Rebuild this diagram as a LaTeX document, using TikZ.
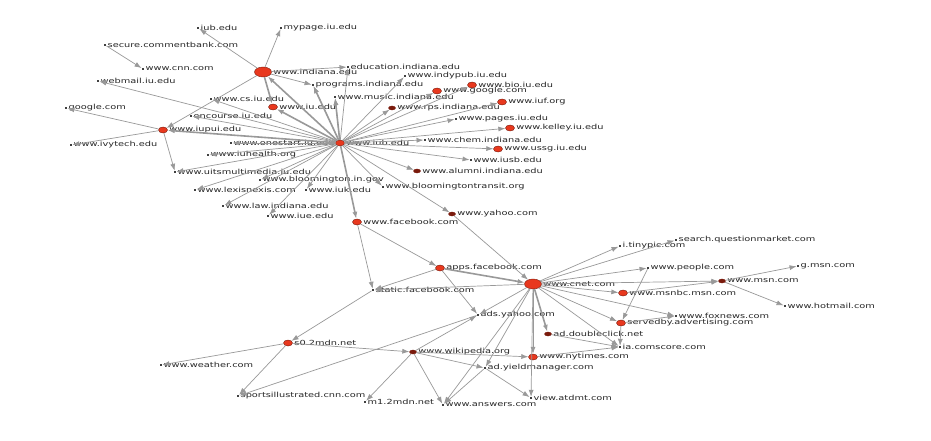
\documentclass[tikz,border=0pt]{standalone}
\usepackage{fontspec}
\usetikzlibrary{shapes,arrows.meta,positioning}
\newfontfamily\sitefont[FakeStretch=1.4]{DejaVu Sans}
\tikzset{>={Latex[width=5pt,length=7pt]}}
\definecolor{nodered}{HTML}{E8381E}
\definecolor{darkred}{HTML}{7A1A0C}
\definecolor{edgegray}{HTML}{999999}
\tikzset{
  hub/.style={ellipse, fill=nodered, draw=darkred, inner sep=0pt,
    minimum width=9pt, minimum height=6pt},
  bighub/.style={hub, minimum width=17pt, minimum height=10pt},
  darkhub/.style={hub, fill=darkred, minimum width=7pt, minimum height=4pt},
  leaf/.style={fill=black!75, inner sep=0pt, minimum width=2.5pt, minimum height=2pt},
  site/.style={font=\sitefont\fontsize{7}{7}\selectfont, inner sep=0pt, text=black!85},
  link/.style={->, draw=edgegray, line width=0.7pt},
  heavy/.style={link, line width=1.6pt},
}

\begin{document}
\begin{tikzpicture}[x=1pt,y=-1pt]

\fill[white] (0,0) rectangle (931,441);
\useasboundingbox (0,0) rectangle (931,441);

%% sites with a red mark
\foreach \n/\s/\x/\y/\t in {
  A/hub/340/143/www.iub.edu, B/bighub/263/72/www.indiana.edu,
  C/hub/163/130/www.iupui.edu, D/hub/273/107/www.iu.edu,
  bio/hub/472/85/www.bio.iu.edu, goog/hub/437/91/www.google.com,
  rps/darkhub/392/108/www.rps.indiana.edu, iuf/hub/502/102/www.iuf.org,
  kel/hub/510/128/www.kelley.iu.edu, ussg/hub/498/149/www.ussg.iu.edu,
  alum/darkhub/417/171/www.alumni.indiana.edu,
  E/hub/357/222/www.facebook.com, F/darkhub/452/214/www.yahoo.com,
  G/hub/440/268/apps.facebook.com, H/bighub/533/284/www.cnet.com,
  msnbc/hub/623/293/www.msnbc.msn.com, serv/hub/621/323/servedby.advertising.com,
  s0/hub/288/343/s0.2mdn.net, wiki/darkhub/413/352/www.wikipedia.org,
  nyt/hub/533/357/www.nytimes.com, dclk/darkhub/548/334/ad.doubleclick.net,
  msn/darkhub/722/281/www.msn.com}
{
  \node[\s] (\n) at (\x,\y) {};
  \node[site, right=1.5pt of \n] (\n-l) {\t};
}

%% plain sites
\foreach \n/\x/\y/\t in {
  iubedu/198/28/iub.edu, mypage/281/28/mypage.iu.edu,
  secure/105/45/secure.commentbank.com, cnn/143/69/www.cnn.com,
  webmail/98/81/webmail.iu.edu, google/66/108/google.com,
  educ/348/67/education.indiana.edu, indy/405/76/www.indypub.iu.edu,
  prog/313/85/programs.indiana.edu, cs/211/99/www.cs.iu.edu,
  music/335/97/www.music.indiana.edu, oncourse/191/116/oncourse.iu.edu,
  pages/456/119/www.pages.iu.edu, chem/425/140/www.chem.indiana.edu,
  iusb/471/160/www.iusb.edu, transit/383/187/www.bloomingtontransit.org,
  onestart/231/143/www.onestart.iu.edu, health/208/155/www.iuhealth.org,
  ivy/71/145/www.ivytech.edu, uits/175/172/www.uitsmultimedia.iu.edu,
  bgov/260/180/www.bloomington.in.gov, lexis/195/190/www.lexisnexis.com,
  iuk/306/190/www.iuk.edu, law/223/206/www.law.indiana.edu,
  iue/268/216/www.iue.edu,
  static/373/290/static.facebook.com, ayahoo/478/315/ads.yahoo.com,
  qm/676/240/search.questionmarket.com, tiny/620/246/i.tinypic.com,
  people/648/268/www.people.com, gmsn/798/266/g.msn.com,
  hotmail/785/306/www.hotmail.com, fox/676/316/www.foxnews.com,
  comscore/620/347/ia.comscore.com, ym/485/368/ad.yieldmanager.com,
  atdmt/531/398/view.atdmt.com, answers/443/405/www.answers.com,
  weather/161/365/www.weather.com, si/238/396/sportsillustrated.cnn.com,
  m2mdn/365/402/m1.2mdn.net}
{
  \node[leaf] (\n) at (\x,\y) {};
  \node[site, right=1pt of \n] (\n-l) {\t};
}

%% links
\foreach \a/\b in {
  A/cs, A/oncourse, A/webmail, A/prog, A/educ, A/indy, A/bio, A/goog,
  A/music, A/rps, A/iuf, A/pages, A/kel, A/chem, A/ussg, A/iusb, A/alum,
  A/transit, A/onestart, A/health, A/uits, A/bgov, A/lexis, A/iuk, A/law,
  A/iue, A/F, B/iubedu, B/mypage, B/C, B/educ, B/prog, secure/cnn,
  C/google, C/ivy, C/uits, F/H, E/static, E/G, G/static, G/ayahoo,
  H/qm, H/tiny, H/people, H/msn, H/msnbc, H/serv, H/fox, H/comscore,
  H/nyt, H/ym, H/atdmt, H/ayahoo, H/static, H/answers,
  msn/gmsn, msn/hotmail, msnbc/msn, people/serv, serv/fox, serv/comscore,
  dclk/comscore, nyt/comscore, static/s0, s0/weather, s0/si, s0/wiki,
  wiki/m2mdn, wiki/answers, wiki/nyt, wiki/ym, wiki/ayahoo, ym/atdmt,
  ym/answers, ayahoo/si}
  \draw[link] (\a) -- (\b);

\foreach \a/\b in {A/B, A/D, A/C, B/D, A/E, G/H, H/dclk, A/music, A/prog}
  \draw[heavy] (\a) -- (\b);

\end{tikzpicture}
\end{document}
